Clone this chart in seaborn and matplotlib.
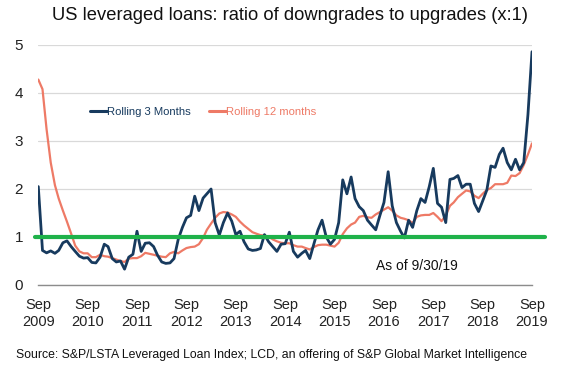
import pandas as pd
import numpy as np
import matplotlib
matplotlib.use('Agg')
import matplotlib.pyplot as plt
import seaborn as sns

# DATA (monthly from Sep 2009 to Sep 2019)
rolling_3m = [2.05, 0.72, 0.67, 0.71, 0.66, 0.72, 0.88, 0.92, 0.80, 0.70,
              0.60, 0.56, 0.57, 0.47, 0.46, 0.58, 0.85, 0.80, 0.55, 0.48,
              0.50, 0.33, 0.58, 0.64, 1.12, 0.70, 0.87, 0.88, 0.80, 0.62,
              0.48, 0.45, 0.46, 0.55, 0.95, 1.20, 1.40, 1.45, 1.85, 1.55,
              1.81, 1.90, 2.00, 1.30, 1.04, 1.30, 1.50, 1.33, 1.05, 1.12,
              0.90, 0.75, 0.72, 0.73, 0.76, 1.05, 0.90, 0.80, 0.70, 0.85,
              0.86, 1.10, 0.70, 0.58, 0.66, 0.72, 0.55, 0.85, 1.15, 1.35,
              1.00, 0.85, 0.95, 1.30, 2.19, 1.90, 2.25, 1.80, 1.63, 1.55,
              1.35, 1.25, 1.15, 1.45, 1.72, 2.36, 1.65, 1.30, 1.12, 0.98,
              1.35, 1.20, 1.55, 1.80, 1.72, 2.05, 2.43, 1.70, 1.62, 1.30,
              2.20, 2.22, 2.28, 2.03, 2.10, 2.10, 1.70, 1.53, 1.75, 1.98,
              2.48, 2.45, 2.72, 2.85, 2.55, 2.40, 2.62, 2.40, 2.55, 3.55,
              4.86]
rolling_12m = [4.28, 4.08, 3.25, 2.55, 2.08, 1.80, 1.55, 1.32, 1.07, 0.82,
               0.70, 0.66, 0.66, 0.58, 0.58, 0.63, 0.60, 0.59, 0.56, 0.53,
               0.50, 0.48, 0.55, 0.56, 0.56, 0.60, 0.67, 0.65, 0.63, 0.61,
               0.59, 0.58, 0.66, 0.69, 0.66, 0.72, 0.77, 0.79, 0.80, 0.85,
               0.98, 1.15, 1.28, 1.40, 1.49, 1.52, 1.51, 1.47, 1.42, 1.32,
               1.24, 1.17, 1.10, 1.07, 1.04, 1.03, 1.01, 0.95, 0.91, 0.88,
               0.87, 0.87, 0.83, 0.80, 0.80, 0.77, 0.74, 0.79, 0.83, 0.84,
               0.84, 0.82, 0.80, 0.88, 1.06, 1.18, 1.26, 1.30, 1.42, 1.44,
               1.41, 1.40, 1.47, 1.52, 1.57, 1.62, 1.55, 1.45, 1.40, 1.38,
               1.35, 1.29, 1.42, 1.45, 1.46, 1.46, 1.50, 1.42, 1.33, 1.45,
               1.65, 1.72, 1.83, 1.90, 1.97, 1.95, 1.86, 1.81, 1.90, 1.98,
               2.02, 2.10, 2.10, 2.10, 2.13, 2.28, 2.27, 2.33, 2.50, 2.72,
               2.95]
tick_years = ['2009', '2010', '2011', '2012', '2013', '2014',
              '2015', '2016', '2017', '2018', '2019']

months = pd.date_range('2009-09-30', periods=len(rolling_3m), freq='ME')
df = pd.DataFrame({'Month': months,
                   'Rolling 3 Months': rolling_3m,
                   'Rolling 12 months': rolling_12m})
long_df = df.melt(id_vars='Month', var_name='Series', value_name='Ratio')

# STYLE
sns.set_style('white')
plt.rcParams['font.family'] = ['Liberation Sans', 'DejaVu Sans']

navy = '#173A5E'
salmon = '#EE7A66'
green = '#1FB24A'

fig = plt.figure(figsize=(5.75, 3.69), dpi=100)
ax = fig.add_axes([38.3 / 575, 84 / 369, (532 - 38.3) / 575, 240 / 369])

sns.lineplot(data=long_df, x='Month', y='Ratio', hue='Series',
             palette={'Rolling 3 Months': navy, 'Rolling 12 months': salmon},
             ax=ax, legend=False)
ax.lines[0].set_linewidth(2.0)
ax.lines[1].set_linewidth(1.6)
ax.lines[0].set_zorder(4)
ax.lines[1].set_zorder(3)

# green parity line, runs a bit past the axes on both sides
ax.axhline(1, xmin=-0.007, xmax=1.027, color=green, lw=3.0, clip_on=False, zorder=5)

ax.set_xlim(months[0], months[-1])
ax.set_ylim(0, 5)
ax.set_yticks(range(0, 6))
ax.yaxis.grid(True, color='#D9D9D9', lw=0.9)
ax.xaxis.grid(False)
for side in ['top', 'right', 'left']:
    ax.spines[side].set_visible(False)
ax.spines['bottom'].set_color('#8C8C8C')
ax.spines['bottom'].set_linewidth(1.0)

sep_ticks = months[::12]
ax.set_xticks(sep_ticks)
ax.set_xticklabels(['Sep\n' + y for y in tick_years], fontsize=10.5, linespacing=1.3)
ax.tick_params(axis='x', length=0, pad=9, colors='#222222')
ax.tick_params(axis='y', length=0, pad=14, labelsize=11, colors='#222222')
for lbl in ax.get_yticklabels():
    lbl.set_horizontalalignment('center')
ax.set_xlabel('')
ax.set_ylabel('')

# legend, text coloured like the lines
handles = [plt.Line2D([], [], color=navy, lw=2.2), plt.Line2D([], [], color=salmon, lw=2.2)]
leg = ax.legend(handles, ['Rolling 3 Months', 'Rolling 12 months'], ncol=2,
                loc='center left', bbox_to_anchor=(0.104, 0.72), frameon=False,
                handlelength=1.5, handletextpad=0.05, columnspacing=1.6,
                borderpad=0, borderaxespad=0, fontsize=8.1,
                labelcolor=[navy, salmon])

ax.text(months[82], 0.40, 'As of 9/30/19', fontsize=10, va='center', ha='left', color='#111111')

fig.text(0.5 * (50 + 530) / 575, 1 - 16 / 369,
         'US leveraged loans: ratio of downgrades to upgrades (x:1)',
         fontsize=13.2, ha='center', va='center', color='#111111')
fig.text(0.5 * (15 + 527) / 575, 1 - 355 / 369,
         'Source: S&P/LSTA Leveraged Loan Index; LCD, an offering of S&P Global Market Intelligence',
         fontsize=8.8, ha='center', va='center', color='#111111')

fig.savefig('out.png', dpi=100, facecolor='white')
